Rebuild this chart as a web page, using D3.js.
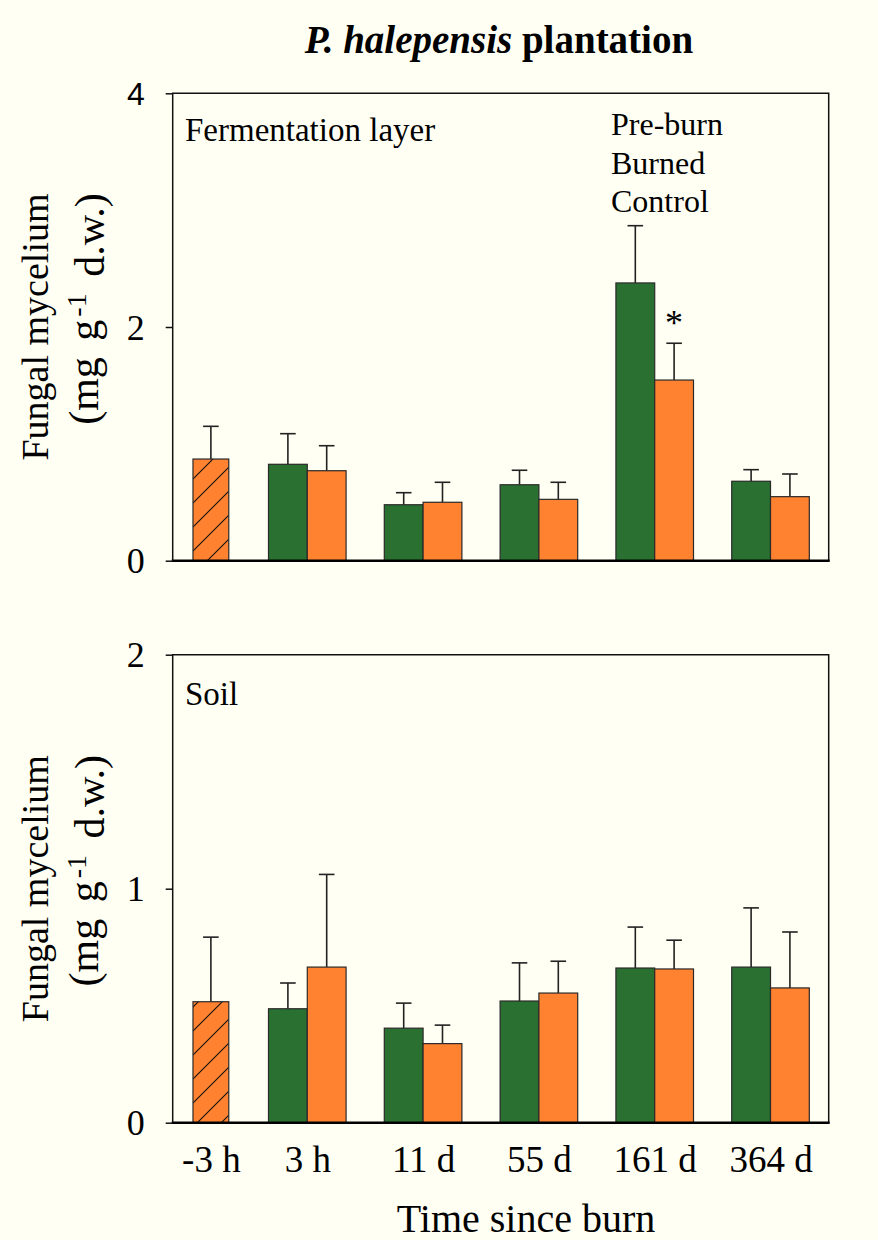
<!DOCTYPE html>
<html>
<head>
<meta charset="utf-8">
<script src="https://cdn.jsdelivr.net/npm/d3@7"></script>
<style>
  body { margin: 0; background: #fffff3; }
  svg { display: block; font-family: "Liberation Serif", "Times New Roman", serif; }
</style>
</head>
<body>
<div id="chart"></div>
<script>
// time since burn (categories)
const times = ["-3 h", "3 h", "11 d", "55 d", "161 d", "364 d"];

// fermentation layer, mg g-1 d.w. (mean and SE)
const fermPreBurn   = [0.87, null, null, null, null, null];
const fermPreBurnSE = [0.28, null, null, null, null, null];
const fermBurned    = [null, 0.825, 0.479, 0.650, 2.377, 0.680];
const fermBurnedSE  = [null, 0.262, 0.103, 0.124, 0.490, 0.099];
const fermControl   = [null, 0.770, 0.500, 0.525, 1.546, 0.548];
const fermControlSE = [null, 0.214, 0.171, 0.146, 0.315, 0.194];

// soil
const soilPreBurn   = [0.517, null, null, null, null, null];
const soilPreBurnSE = [0.276, null, null, null, null, null];
const soilBurned    = [null, 0.487, 0.404, 0.520, 0.661, 0.665];
const soilBurnedSE  = [null, 0.110, 0.107, 0.163, 0.175, 0.253];
const soilControl   = [null, 0.665, 0.338, 0.554, 0.657, 0.576];
const soilControlSE = [null, 0.396, 0.079, 0.136, 0.123, 0.239];

const fermTicks = [0, 2, 4];
const soilTicks = [0, 1, 2];
const legendLabels = ["Pre-burn", "Burned", "Control"];
// significant differences (panel, time, series)
const sigMarks = [{panel: "ferm", time: "161 d", series: "control"}];

const width = 878, height = 1240;
const plotLeft = 172.7, plotRight = 828.7;
const green = "#2a7031", orange = "#ff8231";
const serif = "'Liberation Serif', 'Times New Roman', serif";

const svg = d3.select("#chart").append("svg")
  .attr("width", width).attr("height", height);

svg.append("rect").attr("width", width).attr("height", height).attr("fill", "#fffff3");

const defs = svg.append("defs");
const pat = defs.append("pattern")
  .attr("id", "hatch").attr("patternUnits", "userSpaceOnUse")
  .attr("width", 24).attr("height", 24);
pat.append("rect").attr("width", 24).attr("height", 24).attr("fill", orange);
pat.append("path").attr("d", "M-6,6L6,-6M0,24L24,0M18,30L30,18")
  .attr("stroke", "#111").attr("stroke-width", 1.1);

let x = d3.scaleBand()
  .domain(times)
  .range([133, 829])
  .paddingInner(0.33)
  .paddingOuter(0.17);

let x1 = d3.scaleBand()
  .domain(["burned", "control"])
  .range([0, x.bandwidth()]);

// label at the centre of the bars present in each group
let labelPos = d3.scaleOrdinal()
  .domain(times)
  .range(times.map((t, i) => {
    let slots = [];
    if (fermBurned[i] != null) slots.push("burned");
    if (fermControl[i] != null || fermPreBurn[i] != null) slots.push("control");
    return x(t) + d3.mean(slots, s => x1(s) + x1.bandwidth() / 2);
  }));

const panels = [
  {key: "ferm", top: 93.3, bottom: 560.7, max: 4, ticks: fermTicks, label: "Fermentation layer", labelY: 141,
   pre: fermPreBurn, preSE: fermPreBurnSE, burned: fermBurned, burnedSE: fermBurnedSE,
   control: fermControl, controlSE: fermControlSE},
  {key: "soil", top: 654.7, bottom: 1122.7, max: 2, ticks: soilTicks, label: "Soil", labelY: 705,
   pre: soilPreBurn, preSE: soilPreBurnSE, burned: soilBurned, burnedSE: soilBurnedSE,
   control: soilControl, controlSE: soilControlSE}
];

panels.forEach(p => {
  let y = d3.scaleLinear().domain([0, p.max]).range([p.bottom, p.top]);
  let g = svg.append("g");

  // bar records
  let bars = [];
  times.forEach((t, i) => {
    if (p.pre[i] != null) bars.push({t: t, slot: "control", v: p.pre[i], se: p.preSE[i], fill: "url(#hatch)", series: "pre"});
    if (p.burned[i] != null) bars.push({t: t, slot: "burned", v: p.burned[i], se: p.burnedSE[i], fill: green, series: "burned"});
    if (p.control[i] != null) bars.push({t: t, slot: "control", v: p.control[i], se: p.controlSE[i], fill: orange, series: "control"});
  });

  // error bars
  let eb = g.append("g").attr("stroke", "#222").attr("stroke-width", 1.6);
  eb.selectAll("line.v").data(bars).enter().append("line")
    .attr("x1", d => x(d.t) + x1(d.slot) + x1.bandwidth() / 2)
    .attr("x2", d => x(d.t) + x1(d.slot) + x1.bandwidth() / 2)
    .attr("y1", d => y(d.v))
    .attr("y2", d => y(d.v + d.se));
  eb.selectAll("line.c").data(bars).enter().append("line")
    .attr("x1", d => x(d.t) + x1(d.slot) + x1.bandwidth() / 2 - 7.8)
    .attr("x2", d => x(d.t) + x1(d.slot) + x1.bandwidth() / 2 + 7.8)
    .attr("y1", d => y(d.v + d.se))
    .attr("y2", d => y(d.v + d.se));

  // bars
  g.append("g").selectAll("rect").data(bars).enter().append("rect")
    .attr("x", d => x(d.t) + x1(d.slot) + (d.series == "pre" ? 1.5 : 0))
    .attr("y", d => y(d.v))
    .attr("width", d => x1.bandwidth() - (d.series == "pre" ? 3 : 0))
    .attr("height", d => y(0) - y(d.v))
    .attr("fill", d => d.fill)
    .attr("stroke", "#2a2a2a")
    .attr("stroke-width", 1.2);

  // significance marks
  sigMarks.filter(s => s.panel == p.key).forEach(s => {
    let d = bars.find(b => b.t == s.time && b.series == s.series);
    g.append("text")
      .attr("x", x(d.t) + x1(d.slot) + x1.bandwidth() / 2)
      .attr("y", y(d.v + d.se) - 8)
      .attr("text-anchor", "middle")
      .style("font-size", "36px")
      .text("*");
  });

  // frame
  g.append("path")
    .attr("d", `M${plotLeft},${p.bottom}V${p.top}H${plotRight}V${p.bottom}`)
    .attr("fill", "none").attr("stroke", "#111").attr("stroke-width", 1.5);
  g.append("line")
    .attr("x1", plotLeft - 1).attr("x2", plotRight + 1)
    .attr("y1", p.bottom).attr("y2", p.bottom)
    .attr("stroke", "#000").attr("stroke-width", 2.4);

  // y axis
  let ax = g.append("g")
    .attr("transform", "translate(" + plotLeft + ",0)")
    .call(d3.axisLeft(y).tickValues(p.ticks).tickSize(7).tickPadding(21).tickFormat(d3.format("d")));
  ax.attr("font-family", null).attr("font-size", null);
  ax.select(".domain").remove();
  ax.selectAll(".tick line").attr("stroke", "#111").attr("stroke-width", 1.5);
  ax.selectAll(".tick text")
    .attr("dy", "0.34em")
    .attr("fill", "#000")
    .style("font-size", d => (p.key == "ferm" && d == 4) ? "32px" : "36px")
    .style("font-family", d => (p.key == "ferm" && d == 4) ? "'Liberation Sans', Arial, sans-serif" : serif);

  // panel label
  g.append("text").attr("x", 185).attr("y", p.labelY)
    .style("font-size", "33px").text(p.label);

  // y title
  let cy = (p.top + p.bottom) / 2;
  g.append("text")
    .attr("transform", "translate(48," + cy + ") rotate(-90)")
    .attr("text-anchor", "middle")
    .style("font-size", "38px")
    .text("Fungal mycelium");
  let t2 = g.append("text")
    .attr("transform", "translate(98," + (cy - 18) + ") rotate(-90)")
    .attr("text-anchor", "middle")
    .style("font-size", "42px")
    .style("word-spacing", "6px");
  t2.append("tspan").text("(mg g");
  t2.append("tspan").attr("dx", 3).attr("dy", "-0.42em").style("font-size", "28px").text("-1");
  t2.append("tspan").attr("dy", "0.42em").text(" d.w.)");
});

// x axis (bottom panel)
let xAxis = svg.append("g")
  .attr("transform", "translate(0," + panels[1].bottom + ")")
  .call(d3.axisBottom(labelPos).tickSize(0).tickPadding(23));
xAxis.attr("font-family", null).attr("font-size", null);
xAxis.select(".domain").remove();
xAxis.selectAll(".tick text")
  .attr("dy", "0.71em")
  .attr("fill", "#000")
  .style("font-family", serif)
  .style("font-size", "37px");

svg.append("text")
  .attr("x", 526).attr("y", 1232)
  .attr("text-anchor", "middle")
  .style("font-size", "40px")
  .text("Time since burn");

// title
let title = svg.append("text")
  .attr("x", 499).attr("y", 53)
  .attr("text-anchor", "middle")
  .style("font-size", "39px").style("font-weight", "bold");
title.append("tspan").style("font-style", "italic").text("P. halepensis");
title.append("tspan").text(" plantation");

// legend (text only)
svg.append("g").selectAll("text").data(legendLabels).enter().append("text")
  .attr("x", 611)
  .attr("y", (d, i) => 135 + i * 38.5)
  .style("font-size", "32px")
  .text(d => d);
</script>
</body>
</html>
